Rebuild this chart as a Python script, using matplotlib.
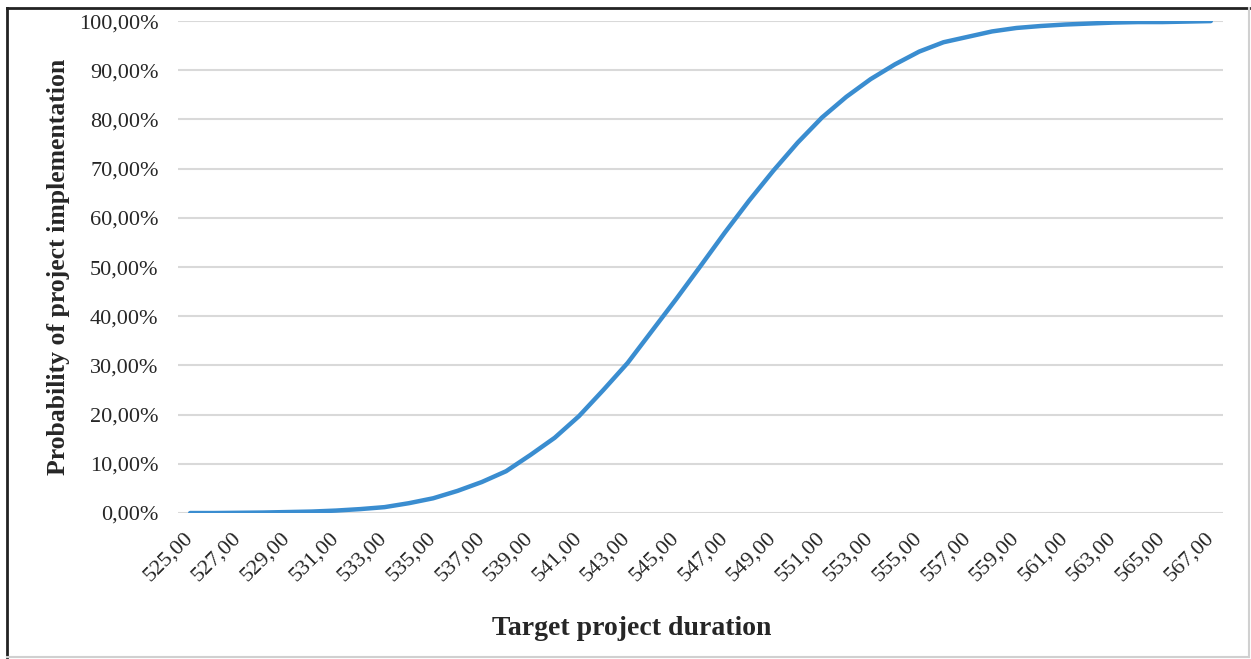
import numpy as np
import matplotlib.pyplot as plt
from matplotlib.lines import Line2D

# Target project duration (days) and probability of implementation (%)
duration = list(range(525, 568))
probability = [
    0.0, 0.0, 0.05, 0.1, 0.2, 0.3, 0.5, 0.8, 1.2, 2.0,
    3.0, 4.5, 6.3, 8.5, 11.8, 15.3, 19.7, 25.0, 30.5, 37.0,
    43.5, 50.2, 57.0, 63.5, 69.6, 75.3, 80.4, 84.6, 88.2, 91.2,
    93.8, 95.7, 96.8, 97.9, 98.6, 99.0, 99.3, 99.5, 99.7, 99.8,
    99.8, 99.9, 100.0,
]
tick_values = list(range(525, 568, 2))
tick_labels = [f"{v},00" for v in tick_values]
y_ticks = list(range(0, 101, 10))
y_labels = [f"{v},00%" for v in y_ticks]

plt.rcParams['font.family'] = ['Liberation Serif', 'DejaVu Serif']

fig = plt.figure(figsize=(12.51, 6.59), dpi=100)
ax = fig.add_axes([0.1423, 0.2215, 0.8353, 0.7465])

ax.plot(duration, probability, color='#3A8DD0', linewidth=3.2, solid_capstyle='round', zorder=3)

ax.set_xlim(524.5, 567.5)
ax.set_ylim(0, 100)
ax.set_yticks(y_ticks)
ax.set_yticklabels(y_labels, fontsize=16, color='#262626')
ax.set_xticks(tick_values)
ax.set_xticklabels(tick_labels, fontsize=16, color='#262626', rotation=45,
                   ha='right', va='center', rotation_mode='anchor')
ax.tick_params(axis='y', length=0, pad=14)
ax.tick_params(axis='x', length=0, pad=16)
ax.grid(axis='y', color='#d9d9d9', linewidth=1.5)
ax.set_axisbelow(True)
for s in ax.spines.values():
    s.set_visible(False)

fig.text(0.505, 0.047, 'Target project duration', fontsize=20, fontweight='bold',
         ha='center', va='center', color='#262626')
fig.text(0.047, 0.595, 'Probability of project implementation', fontsize=18.5,
         fontweight='bold', rotation=90, ha='center', va='center', color='#262626')

# frame around the picture
W, H = 1251, 659
fig.add_artist(Line2D([7 / W, 7 / W], [1 - 8 / H, 1 - 657 / H], color='#222222', lw=2))
fig.add_artist(Line2D([7 / W, 1249 / W], [1 - 8 / H, 1 - 8 / H], color='#222222', lw=2))
fig.add_artist(Line2D([1249 / W, 1249 / W], [1 - 8 / H, 1 - 657 / H], color='#d0d0d0', lw=1.5))
fig.add_artist(Line2D([7 / W, 1249 / W], [1 - 657 / H, 1 - 657 / H], color='#d0d0d0', lw=1.5))

fig.savefig('out.png', dpi=100)
